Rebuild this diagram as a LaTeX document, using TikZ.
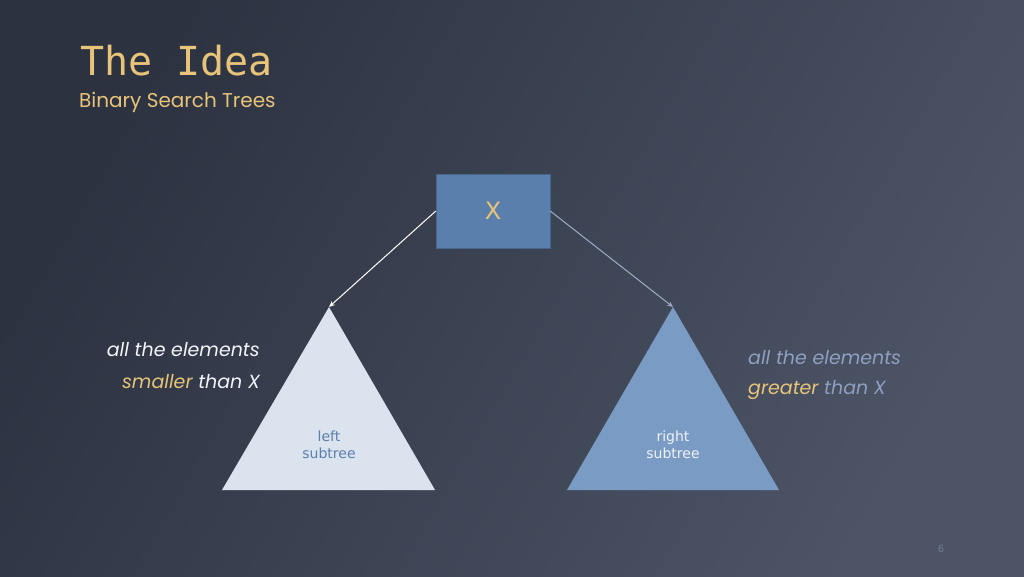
\documentclass[tikz,border=0pt]{standalone}
\usetikzlibrary{arrows.meta}
\usepackage{fontspec}
\setmainfont{Poppins}
\newfontfamily\monof{DejaVu Sans Mono}
\newfontfamily\sansf{DejaVu Sans}
\definecolor{bgA}{HTML}{2C3240}
\definecolor{bgB}{HTML}{4C5466}
\definecolor{gold}{HTML}{E8C47A}
\definecolor{boxc}{HTML}{5B7FAD}
\definecolor{lefttri}{HTML}{DBE3EE}
\definecolor{righttri}{HTML}{7A9CC4}
\definecolor{graytext}{HTML}{8EA0BF}
\definecolor{rarrow}{HTML}{A0ACC4}
\begin{document}
\begin{tikzpicture}[x=1pt,y=-1pt,
  lbl/.style={font=\fontsize{19}{22}\selectfont\itshape},
  sub/.style={font=\sansf\fontsize{14}{17}\selectfont,align=center},
  arr/.style={-{Stealth[length=6pt,width=5pt]},line width=1pt}]
\useasboundingbox (0,0) rectangle (1024,576);
\shade[shading=axis,left color=bgA,right color=bgB,shading angle=60] (0,0) rectangle (1024,576);
\node[anchor=base west,text=gold,font=\monof\fontsize{40}{44}\selectfont,inner sep=0] (title) at (80,75) {The Idea};
\node[anchor=base west,text=gold,font=\fontsize{20}{24}\selectfont,inner sep=0] (subt) at (79,107) {Binary Search Trees};
\node[draw=boxc!80!black,fill=boxc,minimum width=114pt,minimum height=74pt,inner sep=0,
  text=gold,font=\sansf\fontsize{24}{28}\selectfont] (x) at (493,211) {X};
\fill[lefttri] (329,307) coordinate (la) -- (435,490) -- (222,490) -- cycle;
\fill[righttri] (673,307) coordinate (ra) -- (779,490) -- (567,490) -- cycle;
\node[sub,text=boxc] (ls) at (329,445) {left\\subtree};
\node[sub,text=white!90!boxc] (rs) at (673,445) {right\\subtree};
\draw[arr,white] (x.west) -- (la);
\draw[arr,rarrow] (x.east) -- (ra);
\node[lbl,anchor=base east,text=white!92!boxc,inner sep=0] (l1) at (260,356) {all the elements};
\node[lbl,anchor=base east,text=white!92!boxc,inner sep=0] (l2) at (260,388) {\textcolor{gold}{smaller} than X};
\node[lbl,anchor=base west,text=graytext,inner sep=0] (r1) at (748,364) {all the elements};
\node[lbl,anchor=base west,text=graytext,inner sep=0] (r2) at (748,394) {\textcolor{gold}{greater} than X};
\node[text=graytext!80!black,font=\sansf\fontsize{10}{12}\selectfont] (pg) at (941,549) {6};
\end{tikzpicture}
\end{document}
